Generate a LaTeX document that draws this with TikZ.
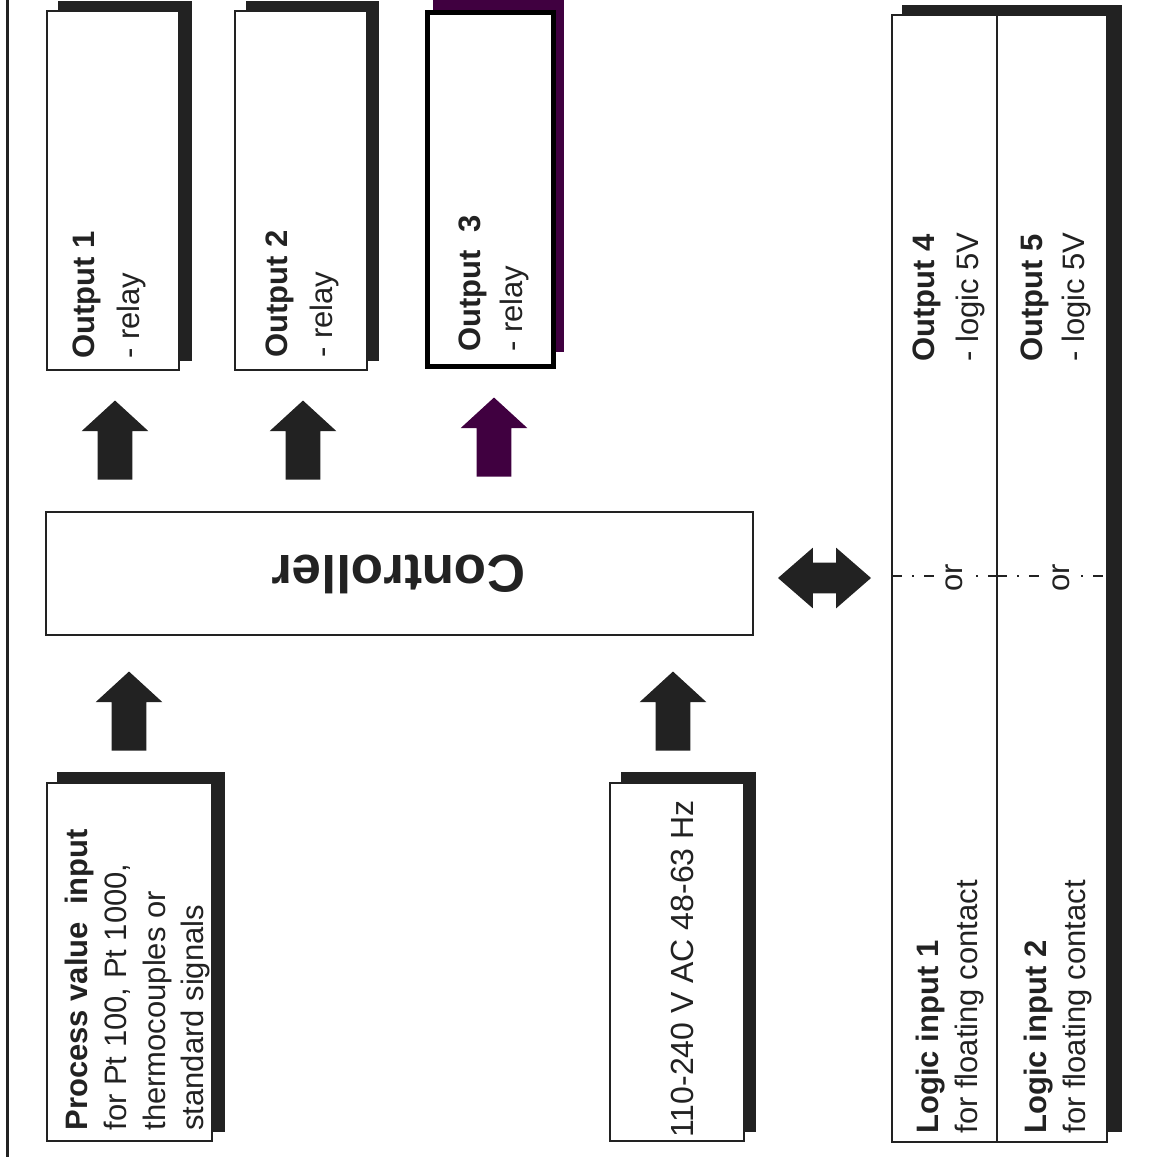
\documentclass[tikz,border=0pt]{standalone}
\usepackage{fontspec}
\setmainfont{Liberation Sans}
\usetikzlibrary{shapes.arrows}

\begin{document}
\begin{tikzpicture}[x=0.5pt, y=-0.5pt,
    panel/.style={draw=ink, fill=white, line width=1.3pt},
    txt/.style={rotate=90, anchor=north west, align=left, inner sep=0pt,
                text=ink, font=\fontsize{15.5}{22.5}\selectfont},
    uparrow/.style={single arrow, rotate=90, fill=ink, draw=none,
                    inner xsep=0pt, inner ysep=8.5pt, minimum height=39.5pt,
                    single arrow head extend=8pt, single arrow tip angle=95},
    ornode/.style={rotate=90, anchor=base, fill=white, inner xsep=1pt, inner ysep=5pt,
                   text=ink, font=\fontsize{15.5}{18}\selectfont}]

% ── Colour palette ──────────────────────────────────────────
\definecolor{ink}{HTML}{222222}
\definecolor{plum}{HTML}{400040}

\useasboundingbox (0,0) rectangle (1158,1157);

% ── Left edge rule ──────────────────────────────────────────
\draw[ink, line width=1.5pt] (7,0) -- (7,1157);

% ── Output boxes (relay) ────────────────────────────────────
\fill[ink] (58,1) rectangle (192,361);
\draw[panel] (47,11) rectangle (179,370);
\node[txt] (out1) at (72,359) {\textbf{Output 1}\\- relay};

\fill[ink] (246,1) rectangle (379,361);
\draw[panel] (235,11) rectangle (367,370);
\node[txt] (out2) at (265,358) {\textbf{Output 2}\\- relay};

\fill[plum] (433,0) rectangle (564,352);
\draw[panel, draw=black, line width=2.5pt] (427,12) rectangle (553,366);
\node[txt, font=\fontsize{15.5}{21}\selectfont] (out3) at (458,352) {\textbf{Output\ \ 3}\\- relay};

% ── Arrows towards the outputs ──────────────────────────────
\node[uparrow] (arr1) at (115,448) {};
\node[uparrow] (arr2) at (303,448) {};
\node[uparrow, fill=plum] (arr3) at (494,445) {};

% ── Controller ──────────────────────────────────────────────
\draw[ink, fill=white, line width=1pt] (46,512) rectangle (753,635);
\node[rotate=180, text=ink, font=\bfseries\fontsize{26.5}{30}\selectfont] (ctrl) at (398.5,574) {Controller};

% ── Inputs into the controller ──────────────────────────────
\node[uparrow] (arrpv) at (129,719) {};
\node[uparrow] (arrac) at (673,719) {};

\fill[ink] (57,772) rectangle (225,1132);
\draw[panel] (47,783) rectangle (212,1141);
\node[txt, font=\fontsize{15.5}{19.35}\selectfont] (pvin) at (65,1131)
    {\textbf{Process value\ \ input}\\for Pt 100, Pt 1000,\\thermocouples or\\standard signals};

\fill[ink] (621,772) rectangle (756,1132);
\draw[panel] (610,783) rectangle (744,1141);
\node[txt, font=\fontsize{16}{19}\selectfont] (mains) at (671,1138) {110-240 V AC 48-63 Hz};

% ── Logic inputs / outputs ──────────────────────────────────
\node[double arrow, fill=ink, draw=none, inner xsep=0pt, inner ysep=7.5pt,
      minimum height=46.5pt, double arrow head extend=7.5pt,
      double arrow tip angle=82] (arrio) at (824.5,578) {};

\fill[ink] (902,5) rectangle (1122,1132);
\draw[panel] (892,15) rectangle (1107,1142);
\draw[ink, line width=1pt] (997,15) -- (997,1142);

\draw[ink, line width=0.9pt, dash pattern=on 5pt off 5pt on 1pt off 5pt] (892,576) -- (997,576);
\draw[ink, line width=0.9pt, dash pattern=on 5pt off 5pt on 1pt off 5pt] (997,576) -- (1107,576);
\node[ornode] (or1) at (962,578) {or};
\node[ornode] (or2) at (1069,578) {or};

\node[txt, font=\fontsize{15.5}{22}\selectfont] (out4) at (912,362) {\textbf{Output 4}\\- logic 5V};
\node[txt, font=\fontsize{15.5}{21}\selectfont] (out5) at (1020,362) {\textbf{Output 5}\\- logic 5V};

\node[txt, font=\fontsize{15.5}{19.5}\selectfont] (lin1) at (916,1134) {\textbf{Logic input 1}\\for floating contact};
\node[txt, font=\fontsize{15.5}{19.5}\selectfont] (lin2) at (1024,1134) {\textbf{Logic input 2}\\for floating contact};

\end{tikzpicture}
\end{document}
